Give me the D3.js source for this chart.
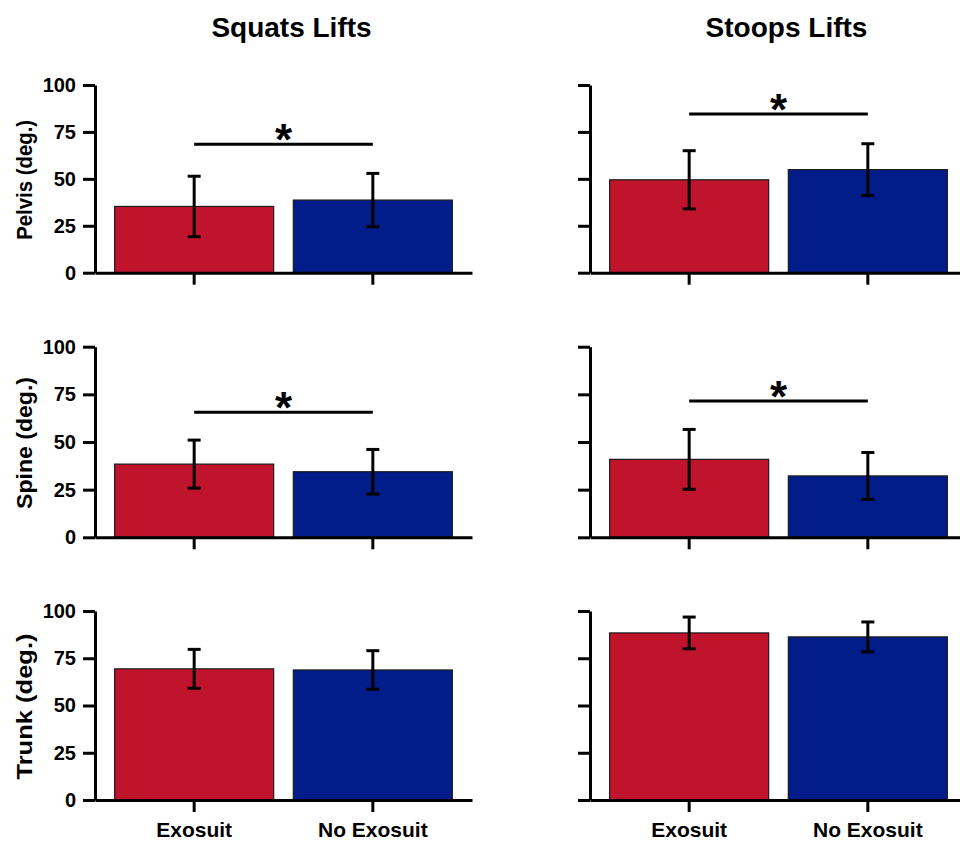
<!DOCTYPE html>
<html>
<head>
<meta charset="utf-8">
<script src="https://cdn.jsdelivr.net/npm/d3@7"></script>
<style>
  html, body { margin: 0; padding: 0; background: #fff; }
  svg { display: block; font-family: "Liberation Sans", Arial, Helvetica, sans-serif; }
</style>
</head>
<body>
<svg id="chart" width="960" height="842"></svg>
<script>
// ---- data ----
const categories = ["Exosuit", "No Exosuit"];
const lifts = ["Squats Lifts", "Stoops Lifts"];
const measures = ["Pelvis (deg.)", "Spine (deg.)", "Trunk (deg.)"];
const yTicks = [0, 25, 50, 75, 100];

// means per measure (Pelvis, Spine, Trunk)
const squatExoMean = [35.3, 38.4, 69.4];
const squatNoMean  = [38.7, 34.4, 68.8];
const stoopExoMean = [49.5, 40.9, 88.4];
const stoopNoMean  = [54.9, 32.2, 86.3];
// standard deviations
const squatExoSD = [16.1, 12.6, 10.3];
const squatNoSD  = [14.2, 11.7, 10.2];
const stoopExoSD = [15.5, 15.7, 8.4];
const stoopNoSD  = [13.8, 12.3, 7.9];
// significance bar levels (null = none)
const squatSig = [68.4, 65.6, null];
const stoopSig = [84.5, 71.5, null];

// ---- layout ----
const rows = [{top: 85, bottom: 272.7}, {top: 346.7, bottom: 537.3}, {top: 611, bottom: 800}];
const cols = [{left: 95, right: 472}, {left: 590, right: 967}];
const colors = ["#C0142D", "#021C8A"];
const labelLengths = [120, 132, 146];

const svg = d3.select("#chart");

const lift = [
  {mean: [squatExoMean, squatNoMean], sd: [squatExoSD, squatNoSD], sig: squatSig},
  {mean: [stoopExoMean, stoopNoMean], sd: [stoopExoSD, stoopNoSD], sig: stoopSig}
];

// titles
lifts.forEach((t, c) => {
  svg.append("text")
    .attr("x", (cols[c].left + cols[c].right) / 2 + 8)
    .attr("y", 37)
    .attr("text-anchor", "middle")
    .attr("font-size", 28)
    .attr("font-weight", "bold")
    .text(t);
});

rows.forEach((r, ri) => {
  const y = d3.scaleLinear().domain([0, 100]).range([r.bottom, r.top]);

  // y label
  svg.append("text")
    .attr("transform", `translate(32,${(r.top + r.bottom) / 2 + 1}) rotate(-90)`)
    .attr("text-anchor", "middle")
    .attr("font-size", 22)
    .attr("font-weight", "bold")
    .attr("textLength", labelLengths[ri])
    .attr("lengthAdjust", "spacingAndGlyphs")
    .text(measures[ri]);

  cols.forEach((c, ci) => {
    const x = d3.scaleBand().domain(categories).range([c.left, c.right])
      .paddingInner(0.11).paddingOuter(0.11);
    const g = svg.append("g");
    const L = lift[ci];

    // bars
    g.selectAll("rect.bar").data(categories).join("rect")
      .attr("class", "bar")
      .attr("x", d => x(d))
      .attr("width", x.bandwidth())
      .attr("y", (d, i) => y(L.mean[i][ri]))
      .attr("height", (d, i) => y(0) - y(L.mean[i][ri]))
      .attr("fill", (d, i) => colors[i])
      .attr("stroke", "#1a1a1a")
      .attr("stroke-width", 1.2);

    // error bars
    categories.forEach((d, i) => {
      const cx = x(d) + x.bandwidth() / 2;
      const m = L.mean[i][ri], s = L.sd[i][ri];
      const eg = g.append("g").attr("stroke", "#000").attr("stroke-width", 3);
      eg.append("line").attr("x1", cx).attr("x2", cx).attr("y1", y(m - s)).attr("y2", y(m + s));
      eg.append("line").attr("x1", cx - 6.5).attr("x2", cx + 6.5).attr("y1", y(m + s)).attr("y2", y(m + s));
      eg.append("line").attr("x1", cx - 6.5).attr("x2", cx + 6.5).attr("y1", y(m - s)).attr("y2", y(m - s));
    });

    // significance
    const sv = L.sig[ri];
    if (sv !== null) {
      const x1 = x(categories[0]) + x.bandwidth() / 2;
      const x2 = x(categories[1]) + x.bandwidth() / 2;
      g.append("line").attr("x1", x1).attr("x2", x2).attr("y1", y(sv)).attr("y2", y(sv))
        .attr("stroke", "#000").attr("stroke-width", 3);
      g.append("text")
        .attr("x", (x1 + x2) / 2)
        .attr("y", y(sv) + 11)
        .attr("text-anchor", "middle")
        .attr("font-size", 44)
        .attr("font-weight", "bold")
        .text("*");
    }

    // y axis
    const ya = d3.axisLeft(y).tickValues(yTicks).tickSize(12).tickSizeOuter(0).tickPadding(7)
      .tickFormat(ci === 0 ? d3.format("d") : () => "");
    const yg = svg.append("g").attr("transform", `translate(${c.left},0)`).call(ya);
    yg.selectAll("text").attr("font-size", 20).attr("font-weight", "bold").attr("fill", "#000")
      .attr("font-family", "Liberation Sans, Arial, sans-serif");

    // x axis
    const xa = d3.axisBottom(x).tickSize(12).tickSizeOuter(0).tickPadding(10)
      .tickFormat(ri === rows.length - 1 ? (d => d) : () => "");
    const xg = svg.append("g").attr("transform", `translate(0,${r.bottom})`).call(xa);
    xg.selectAll("text").attr("font-size", 21).attr("font-weight", "bold").attr("fill", "#000")
      .attr("font-family", "Liberation Sans, Arial, sans-serif");

    [yg, xg].forEach(a => {
      a.selectAll("path.domain").attr("stroke", "#000").attr("stroke-width", 3);
      a.selectAll(".tick line").attr("stroke", "#000").attr("stroke-width", 3);
    });
  });
});
</script>
</body>
</html>
